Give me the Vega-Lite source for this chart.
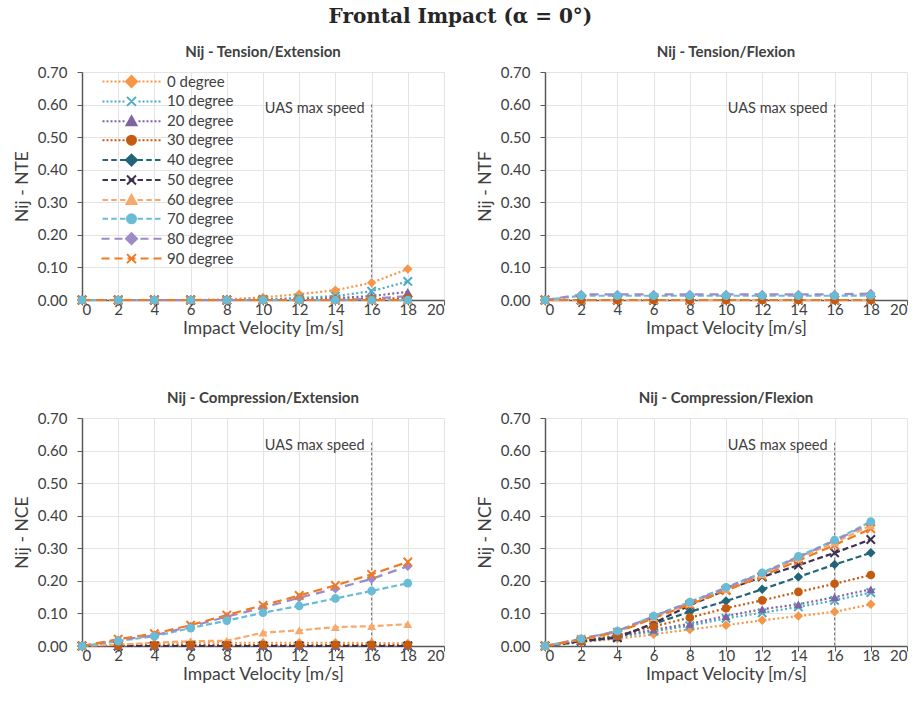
{
  "$schema": "https://vega.github.io/schema/vega-lite/v6.json",
  "padding": {"left": 13, "top": 7, "right": 5, "bottom": 5},
  "title": {"text": "Frontal Impact (α = 0°)", "font": "DejaVu Serif", "fontSize": 20, "fontWeight": "bold", "color": "#262626", "anchor": "middle", "offset": 18},
  "config": {
    "view": {"stroke": null},
    "font": "Lato",
    "title": {"font": "Lato", "fontSize": 15, "fontWeight": "bold", "color": "#404040", "offset": 5},
    "axis": {"labelFont": "Lato", "labelFontSize": 15, "labelColor": "#404040", "titleFont": "Lato", "titleFontSize": 17.5, "titleFontWeight": "normal", "titleColor": "#404040", "gridColor": "#e4e4e4", "domainColor": "#595959", "tickColor": "#595959", "domainWidth": 1.5, "tickSize": 5},
    "axisY": {"labelPadding": 10, "titlePadding": 6},
    "axisX": {"labelPadding": -3, "titlePadding": 2}
  },
  "resolve": {"legend": {"fill": "independent", "stroke": "independent", "shape": "independent"}},
  "datasets": {
    "nij": [
      {"p":"NTE","s":"0 degree","v":0,"y":0},{"p":"NTE","s":"0 degree","v":2,"y":0},{"p":"NTE","s":"0 degree","v":4,"y":0},{"p":"NTE","s":"0 degree","v":6,"y":0},{"p":"NTE","s":"0 degree","v":8,"y":0.002},{"p":"NTE","s":"0 degree","v":10,"y":0.008},{"p":"NTE","s":"0 degree","v":12,"y":0.018},{"p":"NTE","s":"0 degree","v":14,"y":0.03},{"p":"NTE","s":"0 degree","v":16,"y":0.053},{"p":"NTE","s":"0 degree","v":18,"y":0.095},
      {"p":"NTE","s":"10 degree","v":0,"y":0},{"p":"NTE","s":"10 degree","v":2,"y":0},{"p":"NTE","s":"10 degree","v":4,"y":0},{"p":"NTE","s":"10 degree","v":6,"y":0},{"p":"NTE","s":"10 degree","v":8,"y":0},{"p":"NTE","s":"10 degree","v":10,"y":0.002},{"p":"NTE","s":"10 degree","v":12,"y":0.006},{"p":"NTE","s":"10 degree","v":14,"y":0.012},{"p":"NTE","s":"10 degree","v":16,"y":0.027},{"p":"NTE","s":"10 degree","v":18,"y":0.057},
      {"p":"NTE","s":"20 degree","v":0,"y":0},{"p":"NTE","s":"20 degree","v":2,"y":0},{"p":"NTE","s":"20 degree","v":4,"y":0},{"p":"NTE","s":"20 degree","v":6,"y":0},{"p":"NTE","s":"20 degree","v":8,"y":0},{"p":"NTE","s":"20 degree","v":10,"y":0},{"p":"NTE","s":"20 degree","v":12,"y":0.002},{"p":"NTE","s":"20 degree","v":14,"y":0.006},{"p":"NTE","s":"20 degree","v":16,"y":0.012},{"p":"NTE","s":"20 degree","v":18,"y":0.025},
      {"p":"NTE","s":"30 degree","v":0,"y":0},{"p":"NTE","s":"30 degree","v":2,"y":0},{"p":"NTE","s":"30 degree","v":4,"y":0},{"p":"NTE","s":"30 degree","v":6,"y":0},{"p":"NTE","s":"30 degree","v":8,"y":0},{"p":"NTE","s":"30 degree","v":10,"y":0},{"p":"NTE","s":"30 degree","v":12,"y":0},{"p":"NTE","s":"30 degree","v":14,"y":0.001},{"p":"NTE","s":"30 degree","v":16,"y":0.003},{"p":"NTE","s":"30 degree","v":18,"y":0.006},
      {"p":"NTE","s":"40 degree","v":0,"y":0},{"p":"NTE","s":"40 degree","v":2,"y":0},{"p":"NTE","s":"40 degree","v":4,"y":0},{"p":"NTE","s":"40 degree","v":6,"y":0},{"p":"NTE","s":"40 degree","v":8,"y":0},{"p":"NTE","s":"40 degree","v":10,"y":0},{"p":"NTE","s":"40 degree","v":12,"y":0},{"p":"NTE","s":"40 degree","v":14,"y":0},{"p":"NTE","s":"40 degree","v":16,"y":0},{"p":"NTE","s":"40 degree","v":18,"y":0},
      {"p":"NTE","s":"50 degree","v":0,"y":0},{"p":"NTE","s":"50 degree","v":2,"y":0},{"p":"NTE","s":"50 degree","v":4,"y":0},{"p":"NTE","s":"50 degree","v":6,"y":0},{"p":"NTE","s":"50 degree","v":8,"y":0},{"p":"NTE","s":"50 degree","v":10,"y":0},{"p":"NTE","s":"50 degree","v":12,"y":0},{"p":"NTE","s":"50 degree","v":14,"y":0},{"p":"NTE","s":"50 degree","v":16,"y":0},{"p":"NTE","s":"50 degree","v":18,"y":0},
      {"p":"NTE","s":"60 degree","v":0,"y":0},{"p":"NTE","s":"60 degree","v":2,"y":0},{"p":"NTE","s":"60 degree","v":4,"y":0},{"p":"NTE","s":"60 degree","v":6,"y":0},{"p":"NTE","s":"60 degree","v":8,"y":0},{"p":"NTE","s":"60 degree","v":10,"y":0},{"p":"NTE","s":"60 degree","v":12,"y":0},{"p":"NTE","s":"60 degree","v":14,"y":0},{"p":"NTE","s":"60 degree","v":16,"y":0},{"p":"NTE","s":"60 degree","v":18,"y":0},
      {"p":"NTE","s":"70 degree","v":0,"y":0},{"p":"NTE","s":"70 degree","v":2,"y":0},{"p":"NTE","s":"70 degree","v":4,"y":0},{"p":"NTE","s":"70 degree","v":6,"y":0},{"p":"NTE","s":"70 degree","v":8,"y":0},{"p":"NTE","s":"70 degree","v":10,"y":0},{"p":"NTE","s":"70 degree","v":12,"y":0},{"p":"NTE","s":"70 degree","v":14,"y":0},{"p":"NTE","s":"70 degree","v":16,"y":0},{"p":"NTE","s":"70 degree","v":18,"y":0},
      {"p":"NTE","s":"80 degree","v":0,"y":0},{"p":"NTE","s":"80 degree","v":2,"y":0},{"p":"NTE","s":"80 degree","v":4,"y":0},{"p":"NTE","s":"80 degree","v":6,"y":0},{"p":"NTE","s":"80 degree","v":8,"y":0},{"p":"NTE","s":"80 degree","v":10,"y":0},{"p":"NTE","s":"80 degree","v":12,"y":0},{"p":"NTE","s":"80 degree","v":14,"y":0},{"p":"NTE","s":"80 degree","v":16,"y":0.004},{"p":"NTE","s":"80 degree","v":18,"y":0.012},
      {"p":"NTE","s":"90 degree","v":0,"y":0},{"p":"NTE","s":"90 degree","v":2,"y":0},{"p":"NTE","s":"90 degree","v":4,"y":0},{"p":"NTE","s":"90 degree","v":6,"y":0},{"p":"NTE","s":"90 degree","v":8,"y":0},{"p":"NTE","s":"90 degree","v":10,"y":0},{"p":"NTE","s":"90 degree","v":12,"y":0},{"p":"NTE","s":"90 degree","v":14,"y":0},{"p":"NTE","s":"90 degree","v":16,"y":0},{"p":"NTE","s":"90 degree","v":18,"y":0},

      {"p":"NTF","s":"0 degree","v":0,"y":0},{"p":"NTF","s":"0 degree","v":2,"y":0},{"p":"NTF","s":"0 degree","v":4,"y":0},{"p":"NTF","s":"0 degree","v":6,"y":0},{"p":"NTF","s":"0 degree","v":8,"y":0},{"p":"NTF","s":"0 degree","v":10,"y":0},{"p":"NTF","s":"0 degree","v":12,"y":0},{"p":"NTF","s":"0 degree","v":14,"y":0},{"p":"NTF","s":"0 degree","v":16,"y":0},{"p":"NTF","s":"0 degree","v":18,"y":0},
      {"p":"NTF","s":"10 degree","v":0,"y":0},{"p":"NTF","s":"10 degree","v":2,"y":0},{"p":"NTF","s":"10 degree","v":4,"y":0},{"p":"NTF","s":"10 degree","v":6,"y":0},{"p":"NTF","s":"10 degree","v":8,"y":0},{"p":"NTF","s":"10 degree","v":10,"y":0},{"p":"NTF","s":"10 degree","v":12,"y":0},{"p":"NTF","s":"10 degree","v":14,"y":0},{"p":"NTF","s":"10 degree","v":16,"y":0},{"p":"NTF","s":"10 degree","v":18,"y":0},
      {"p":"NTF","s":"20 degree","v":0,"y":0},{"p":"NTF","s":"20 degree","v":2,"y":0},{"p":"NTF","s":"20 degree","v":4,"y":0},{"p":"NTF","s":"20 degree","v":6,"y":0},{"p":"NTF","s":"20 degree","v":8,"y":0},{"p":"NTF","s":"20 degree","v":10,"y":0},{"p":"NTF","s":"20 degree","v":12,"y":0},{"p":"NTF","s":"20 degree","v":14,"y":0},{"p":"NTF","s":"20 degree","v":16,"y":0},{"p":"NTF","s":"20 degree","v":18,"y":0},
      {"p":"NTF","s":"30 degree","v":0,"y":0},{"p":"NTF","s":"30 degree","v":2,"y":0},{"p":"NTF","s":"30 degree","v":4,"y":0},{"p":"NTF","s":"30 degree","v":6,"y":0},{"p":"NTF","s":"30 degree","v":8,"y":0},{"p":"NTF","s":"30 degree","v":10,"y":0},{"p":"NTF","s":"30 degree","v":12,"y":0},{"p":"NTF","s":"30 degree","v":14,"y":0},{"p":"NTF","s":"30 degree","v":16,"y":0},{"p":"NTF","s":"30 degree","v":18,"y":0},
      {"p":"NTF","s":"40 degree","v":0,"y":0},{"p":"NTF","s":"40 degree","v":2,"y":0},{"p":"NTF","s":"40 degree","v":4,"y":0},{"p":"NTF","s":"40 degree","v":6,"y":0},{"p":"NTF","s":"40 degree","v":8,"y":0},{"p":"NTF","s":"40 degree","v":10,"y":0},{"p":"NTF","s":"40 degree","v":12,"y":0},{"p":"NTF","s":"40 degree","v":14,"y":0},{"p":"NTF","s":"40 degree","v":16,"y":0},{"p":"NTF","s":"40 degree","v":18,"y":0},
      {"p":"NTF","s":"50 degree","v":0,"y":0},{"p":"NTF","s":"50 degree","v":2,"y":0},{"p":"NTF","s":"50 degree","v":4,"y":0},{"p":"NTF","s":"50 degree","v":6,"y":0},{"p":"NTF","s":"50 degree","v":8,"y":0},{"p":"NTF","s":"50 degree","v":10,"y":0},{"p":"NTF","s":"50 degree","v":12,"y":0},{"p":"NTF","s":"50 degree","v":14,"y":0},{"p":"NTF","s":"50 degree","v":16,"y":0},{"p":"NTF","s":"50 degree","v":18,"y":0},
      {"p":"NTF","s":"60 degree","v":0,"y":0},{"p":"NTF","s":"60 degree","v":2,"y":0},{"p":"NTF","s":"60 degree","v":4,"y":0},{"p":"NTF","s":"60 degree","v":6,"y":0},{"p":"NTF","s":"60 degree","v":8,"y":0},{"p":"NTF","s":"60 degree","v":10,"y":0},{"p":"NTF","s":"60 degree","v":12,"y":0},{"p":"NTF","s":"60 degree","v":14,"y":0},{"p":"NTF","s":"60 degree","v":16,"y":0},{"p":"NTF","s":"60 degree","v":18,"y":0},
      {"p":"NTF","s":"70 degree","v":0,"y":0},{"p":"NTF","s":"70 degree","v":2,"y":0.013},{"p":"NTF","s":"70 degree","v":4,"y":0.013},{"p":"NTF","s":"70 degree","v":6,"y":0.013},{"p":"NTF","s":"70 degree","v":8,"y":0.013},{"p":"NTF","s":"70 degree","v":10,"y":0.013},{"p":"NTF","s":"70 degree","v":12,"y":0.013},{"p":"NTF","s":"70 degree","v":14,"y":0.013},{"p":"NTF","s":"70 degree","v":16,"y":0.013},{"p":"NTF","s":"70 degree","v":18,"y":0.014},
      {"p":"NTF","s":"80 degree","v":0,"y":0},{"p":"NTF","s":"80 degree","v":2,"y":0.017},{"p":"NTF","s":"80 degree","v":4,"y":0.017},{"p":"NTF","s":"80 degree","v":6,"y":0.017},{"p":"NTF","s":"80 degree","v":8,"y":0.017},{"p":"NTF","s":"80 degree","v":10,"y":0.017},{"p":"NTF","s":"80 degree","v":12,"y":0.017},{"p":"NTF","s":"80 degree","v":14,"y":0.017},{"p":"NTF","s":"80 degree","v":16,"y":0.017},{"p":"NTF","s":"80 degree","v":18,"y":0.02},
      {"p":"NTF","s":"90 degree","v":0,"y":0},{"p":"NTF","s":"90 degree","v":2,"y":0},{"p":"NTF","s":"90 degree","v":4,"y":0},{"p":"NTF","s":"90 degree","v":6,"y":0},{"p":"NTF","s":"90 degree","v":8,"y":0},{"p":"NTF","s":"90 degree","v":10,"y":0},{"p":"NTF","s":"90 degree","v":12,"y":0},{"p":"NTF","s":"90 degree","v":14,"y":0},{"p":"NTF","s":"90 degree","v":16,"y":0},{"p":"NTF","s":"90 degree","v":18,"y":0},

      {"p":"NCE","s":"0 degree","v":0,"y":0},{"p":"NCE","s":"0 degree","v":2,"y":0.004},{"p":"NCE","s":"0 degree","v":4,"y":0.008},{"p":"NCE","s":"0 degree","v":6,"y":0.01},{"p":"NCE","s":"0 degree","v":8,"y":0.01},{"p":"NCE","s":"0 degree","v":10,"y":0.01},{"p":"NCE","s":"0 degree","v":12,"y":0.01},{"p":"NCE","s":"0 degree","v":14,"y":0.01},{"p":"NCE","s":"0 degree","v":16,"y":0.009},{"p":"NCE","s":"0 degree","v":18,"y":0.008},
      {"p":"NCE","s":"10 degree","v":0,"y":0},{"p":"NCE","s":"10 degree","v":2,"y":0},{"p":"NCE","s":"10 degree","v":4,"y":0},{"p":"NCE","s":"10 degree","v":6,"y":0},{"p":"NCE","s":"10 degree","v":8,"y":0},{"p":"NCE","s":"10 degree","v":10,"y":0},{"p":"NCE","s":"10 degree","v":12,"y":0},{"p":"NCE","s":"10 degree","v":14,"y":0},{"p":"NCE","s":"10 degree","v":16,"y":0},{"p":"NCE","s":"10 degree","v":18,"y":0},
      {"p":"NCE","s":"20 degree","v":0,"y":0},{"p":"NCE","s":"20 degree","v":2,"y":0},{"p":"NCE","s":"20 degree","v":4,"y":0},{"p":"NCE","s":"20 degree","v":6,"y":0},{"p":"NCE","s":"20 degree","v":8,"y":0},{"p":"NCE","s":"20 degree","v":10,"y":0},{"p":"NCE","s":"20 degree","v":12,"y":0},{"p":"NCE","s":"20 degree","v":14,"y":0},{"p":"NCE","s":"20 degree","v":16,"y":0},{"p":"NCE","s":"20 degree","v":18,"y":0},
      {"p":"NCE","s":"30 degree","v":0,"y":0},{"p":"NCE","s":"30 degree","v":2,"y":0.001},{"p":"NCE","s":"30 degree","v":4,"y":0.002},{"p":"NCE","s":"30 degree","v":6,"y":0.003},{"p":"NCE","s":"30 degree","v":8,"y":0.003},{"p":"NCE","s":"30 degree","v":10,"y":0.003},{"p":"NCE","s":"30 degree","v":12,"y":0.003},{"p":"NCE","s":"30 degree","v":14,"y":0.003},{"p":"NCE","s":"30 degree","v":16,"y":0.003},{"p":"NCE","s":"30 degree","v":18,"y":0.003},
      {"p":"NCE","s":"40 degree","v":0,"y":0},{"p":"NCE","s":"40 degree","v":2,"y":0},{"p":"NCE","s":"40 degree","v":4,"y":0},{"p":"NCE","s":"40 degree","v":6,"y":0},{"p":"NCE","s":"40 degree","v":8,"y":0},{"p":"NCE","s":"40 degree","v":10,"y":0},{"p":"NCE","s":"40 degree","v":12,"y":0},{"p":"NCE","s":"40 degree","v":14,"y":0},{"p":"NCE","s":"40 degree","v":16,"y":0},{"p":"NCE","s":"40 degree","v":18,"y":0},
      {"p":"NCE","s":"50 degree","v":0,"y":0},{"p":"NCE","s":"50 degree","v":2,"y":0},{"p":"NCE","s":"50 degree","v":4,"y":0},{"p":"NCE","s":"50 degree","v":6,"y":0},{"p":"NCE","s":"50 degree","v":8,"y":0},{"p":"NCE","s":"50 degree","v":10,"y":0},{"p":"NCE","s":"50 degree","v":12,"y":0},{"p":"NCE","s":"50 degree","v":14,"y":0},{"p":"NCE","s":"50 degree","v":16,"y":0},{"p":"NCE","s":"50 degree","v":18,"y":0},
      {"p":"NCE","s":"60 degree","v":0,"y":0},{"p":"NCE","s":"60 degree","v":2,"y":0.004},{"p":"NCE","s":"60 degree","v":4,"y":0.01},{"p":"NCE","s":"60 degree","v":6,"y":0.015},{"p":"NCE","s":"60 degree","v":8,"y":0.016},{"p":"NCE","s":"60 degree","v":10,"y":0.041},{"p":"NCE","s":"60 degree","v":12,"y":0.048},{"p":"NCE","s":"60 degree","v":14,"y":0.058},{"p":"NCE","s":"60 degree","v":16,"y":0.061},{"p":"NCE","s":"60 degree","v":18,"y":0.067},
      {"p":"NCE","s":"70 degree","v":0,"y":0},{"p":"NCE","s":"70 degree","v":2,"y":0.015},{"p":"NCE","s":"70 degree","v":4,"y":0.03},{"p":"NCE","s":"70 degree","v":6,"y":0.055},{"p":"NCE","s":"70 degree","v":8,"y":0.078},{"p":"NCE","s":"70 degree","v":10,"y":0.102},{"p":"NCE","s":"70 degree","v":12,"y":0.123},{"p":"NCE","s":"70 degree","v":14,"y":0.146},{"p":"NCE","s":"70 degree","v":16,"y":0.169},{"p":"NCE","s":"70 degree","v":18,"y":0.193},
      {"p":"NCE","s":"80 degree","v":0,"y":0},{"p":"NCE","s":"80 degree","v":2,"y":0.018},{"p":"NCE","s":"80 degree","v":4,"y":0.033},{"p":"NCE","s":"80 degree","v":6,"y":0.06},{"p":"NCE","s":"80 degree","v":8,"y":0.09},{"p":"NCE","s":"80 degree","v":10,"y":0.118},{"p":"NCE","s":"80 degree","v":12,"y":0.148},{"p":"NCE","s":"80 degree","v":14,"y":0.176},{"p":"NCE","s":"80 degree","v":16,"y":0.206},{"p":"NCE","s":"80 degree","v":18,"y":0.245},
      {"p":"NCE","s":"90 degree","v":0,"y":0},{"p":"NCE","s":"90 degree","v":2,"y":0.021},{"p":"NCE","s":"90 degree","v":4,"y":0.038},{"p":"NCE","s":"90 degree","v":6,"y":0.064},{"p":"NCE","s":"90 degree","v":8,"y":0.095},{"p":"NCE","s":"90 degree","v":10,"y":0.125},{"p":"NCE","s":"90 degree","v":12,"y":0.155},{"p":"NCE","s":"90 degree","v":14,"y":0.186},{"p":"NCE","s":"90 degree","v":16,"y":0.22},{"p":"NCE","s":"90 degree","v":18,"y":0.258},

      {"p":"NCF","s":"0 degree","v":0,"y":0},{"p":"NCF","s":"0 degree","v":2,"y":0.012},{"p":"NCF","s":"0 degree","v":4,"y":0.022},{"p":"NCF","s":"0 degree","v":6,"y":0.036},{"p":"NCF","s":"0 degree","v":8,"y":0.051},{"p":"NCF","s":"0 degree","v":10,"y":0.064},{"p":"NCF","s":"0 degree","v":12,"y":0.079},{"p":"NCF","s":"0 degree","v":14,"y":0.092},{"p":"NCF","s":"0 degree","v":16,"y":0.105},{"p":"NCF","s":"0 degree","v":18,"y":0.128},
      {"p":"NCF","s":"10 degree","v":0,"y":0},{"p":"NCF","s":"10 degree","v":2,"y":0.014},{"p":"NCF","s":"10 degree","v":4,"y":0.027},{"p":"NCF","s":"10 degree","v":6,"y":0.045},{"p":"NCF","s":"10 degree","v":8,"y":0.062},{"p":"NCF","s":"10 degree","v":10,"y":0.085},{"p":"NCF","s":"10 degree","v":12,"y":0.102},{"p":"NCF","s":"10 degree","v":14,"y":0.12},{"p":"NCF","s":"10 degree","v":16,"y":0.14},{"p":"NCF","s":"10 degree","v":18,"y":0.164},
      {"p":"NCF","s":"20 degree","v":0,"y":0},{"p":"NCF","s":"20 degree","v":2,"y":0.015},{"p":"NCF","s":"20 degree","v":4,"y":0.03},{"p":"NCF","s":"20 degree","v":6,"y":0.05},{"p":"NCF","s":"20 degree","v":8,"y":0.068},{"p":"NCF","s":"20 degree","v":10,"y":0.092},{"p":"NCF","s":"20 degree","v":12,"y":0.113},{"p":"NCF","s":"20 degree","v":14,"y":0.128},{"p":"NCF","s":"20 degree","v":16,"y":0.15},{"p":"NCF","s":"20 degree","v":18,"y":0.174},
      {"p":"NCF","s":"30 degree","v":0,"y":0},{"p":"NCF","s":"30 degree","v":2,"y":0.015},{"p":"NCF","s":"30 degree","v":4,"y":0.033},{"p":"NCF","s":"30 degree","v":6,"y":0.06},{"p":"NCF","s":"30 degree","v":8,"y":0.087},{"p":"NCF","s":"30 degree","v":10,"y":0.116},{"p":"NCF","s":"30 degree","v":12,"y":0.14},{"p":"NCF","s":"30 degree","v":14,"y":0.166},{"p":"NCF","s":"30 degree","v":16,"y":0.191},{"p":"NCF","s":"30 degree","v":18,"y":0.218},
      {"p":"NCF","s":"40 degree","v":0,"y":0},{"p":"NCF","s":"40 degree","v":2,"y":0.015},{"p":"NCF","s":"40 degree","v":4,"y":0.028},{"p":"NCF","s":"40 degree","v":6,"y":0.068},{"p":"NCF","s":"40 degree","v":8,"y":0.105},{"p":"NCF","s":"40 degree","v":10,"y":0.138},{"p":"NCF","s":"40 degree","v":12,"y":0.174},{"p":"NCF","s":"40 degree","v":14,"y":0.212},{"p":"NCF","s":"40 degree","v":16,"y":0.25},{"p":"NCF","s":"40 degree","v":18,"y":0.286},
      {"p":"NCF","s":"50 degree","v":0,"y":0},{"p":"NCF","s":"50 degree","v":2,"y":0.015},{"p":"NCF","s":"50 degree","v":4,"y":0.025},{"p":"NCF","s":"50 degree","v":6,"y":0.07},{"p":"NCF","s":"50 degree","v":8,"y":0.125},{"p":"NCF","s":"50 degree","v":10,"y":0.172},{"p":"NCF","s":"50 degree","v":12,"y":0.212},{"p":"NCF","s":"50 degree","v":14,"y":0.248},{"p":"NCF","s":"50 degree","v":16,"y":0.286},{"p":"NCF","s":"50 degree","v":18,"y":0.327},
      {"p":"NCF","s":"60 degree","v":0,"y":0},{"p":"NCF","s":"60 degree","v":2,"y":0.02},{"p":"NCF","s":"60 degree","v":4,"y":0.043},{"p":"NCF","s":"60 degree","v":6,"y":0.088},{"p":"NCF","s":"60 degree","v":8,"y":0.13},{"p":"NCF","s":"60 degree","v":10,"y":0.175},{"p":"NCF","s":"60 degree","v":12,"y":0.22},{"p":"NCF","s":"60 degree","v":14,"y":0.27},{"p":"NCF","s":"60 degree","v":16,"y":0.318},{"p":"NCF","s":"60 degree","v":18,"y":0.37},
      {"p":"NCF","s":"70 degree","v":0,"y":0},{"p":"NCF","s":"70 degree","v":2,"y":0.022},{"p":"NCF","s":"70 degree","v":4,"y":0.046},{"p":"NCF","s":"70 degree","v":6,"y":0.092},{"p":"NCF","s":"70 degree","v":8,"y":0.135},{"p":"NCF","s":"70 degree","v":10,"y":0.18},{"p":"NCF","s":"70 degree","v":12,"y":0.225},{"p":"NCF","s":"70 degree","v":14,"y":0.275},{"p":"NCF","s":"70 degree","v":16,"y":0.325},{"p":"NCF","s":"70 degree","v":18,"y":0.382},
      {"p":"NCF","s":"80 degree","v":0,"y":0},{"p":"NCF","s":"80 degree","v":2,"y":0.022},{"p":"NCF","s":"80 degree","v":4,"y":0.046},{"p":"NCF","s":"80 degree","v":6,"y":0.091},{"p":"NCF","s":"80 degree","v":8,"y":0.134},{"p":"NCF","s":"80 degree","v":10,"y":0.178},{"p":"NCF","s":"80 degree","v":12,"y":0.223},{"p":"NCF","s":"80 degree","v":14,"y":0.273},{"p":"NCF","s":"80 degree","v":16,"y":0.323},{"p":"NCF","s":"80 degree","v":18,"y":0.378},
      {"p":"NCF","s":"90 degree","v":0,"y":0},{"p":"NCF","s":"90 degree","v":2,"y":0.02},{"p":"NCF","s":"90 degree","v":4,"y":0.042},{"p":"NCF","s":"90 degree","v":6,"y":0.085},{"p":"NCF","s":"90 degree","v":8,"y":0.128},{"p":"NCF","s":"90 degree","v":10,"y":0.17},{"p":"NCF","s":"90 degree","v":12,"y":0.215},{"p":"NCF","s":"90 degree","v":14,"y":0.262},{"p":"NCF","s":"90 degree","v":16,"y":0.31},{"p":"NCF","s":"90 degree","v":18,"y":0.36}
    ]
  },
  "columns": 2,
  "spacing": {"row": 54, "column": 31},
  "concat": [
    {
      "width": 362, "height": 228,
      "title": "Nij - Tension/Extension",
      "encoding": {
        "x": {"field": "v", "type": "quantitative", "scale": {"domain": [0, 20], "nice": false}, "axis": {"values": [0,2,4,6,8,10,12,14,16,18,20], "title": "Impact Velocity [m/s]"}},
        "y": {"field": "y", "type": "quantitative", "scale": {"domain": [0, 0.7], "nice": false}, "axis": {"values": [0,0.1,0.2,0.3,0.4,0.5,0.6,0.7], "format": ".2f", "title": "Nij - NTE"}}
      },
      "layer": [
        {"data": {"values": [{"v": 16, "y": 0.6, "label": "UAS max speed"}]}, "mark": {"type": "rule", "color": "#7f7f7f", "strokeDash": [3, 2], "strokeWidth": 1.2}, "encoding": {"y2": {"datum": 0}}},
        {"data": {"values": [{"v": 16, "y": 0.6, "label": "UAS max speed"}]}, "mark": {"type": "text", "align": "right", "baseline": "middle", "dx": -7, "dy": 4, "fontSize": 14.5, "font": "Lato", "color": "#404040"}, "encoding": {"text": {"field": "label"}}},
        {"data": {"name": "nij"}, "transform": [{"filter": "datum.p == 'NTE'"}], "mark": {"type": "line", "strokeWidth": 2.2},
          "encoding": {
            "color": {"field": "s", "type": "nominal", "legend": null, "scale": {"domain": ["0 degree","10 degree","20 degree","30 degree","40 degree","50 degree","60 degree","70 degree","80 degree","90 degree"], "range": ["#F79646","#4BACC6","#8064A2","#C55A11","#226578","#3F3151","#F9A86B","#68BCD6","#9E8BC6","#F07A22"]}},
            "strokeDash": {"field": "s", "type": "nominal", "legend": null, "scale": {"domain": ["0 degree","10 degree","20 degree","30 degree","40 degree","50 degree","60 degree","70 degree","80 degree","90 degree"], "range": [[2,2.5],[2,2.5],[2,2.5],[2,2.5],[6,3],[6,3],[6,3],[6,3],[9,6],[9,5]]}}
          }},
        {"data": {"name": "nij"}, "transform": [{"filter": "datum.p == 'NTE' && indexof(['0 degree','40 degree','80 degree'], datum.s) >= 0"}], "mark": {"type": "point", "shape": "diamond", "filled": true, "size": 90, "opacity": 1}, "encoding": {"color": {"field": "s", "type": "nominal", "legend": null}}},
        {"data": {"name": "nij"}, "transform": [{"filter": "datum.p == 'NTE' && indexof(['10 degree','50 degree','90 degree'], datum.s) >= 0"}], "mark": {"type": "point", "shape": "M-1,-1L1,1M-1,1L1,-1", "filled": false, "size": 70, "strokeWidth": 2, "opacity": 1}, "encoding": {"color": {"field": "s", "type": "nominal", "legend": null}}},
        {"data": {"name": "nij"}, "transform": [{"filter": "datum.p == 'NTE' && indexof(['20 degree','60 degree'], datum.s) >= 0"}], "mark": {"type": "point", "shape": "triangle-up", "filled": true, "size": 80, "opacity": 1}, "encoding": {"color": {"field": "s", "type": "nominal", "legend": null}}},
        {"data": {"name": "nij"}, "transform": [{"filter": "datum.p == 'NTE' && indexof(['30 degree','70 degree'], datum.s) >= 0"}], "mark": {"type": "point", "shape": "circle", "filled": true, "size": 75, "opacity": 1}, "encoding": {"color": {"field": "s", "type": "nominal", "legend": null}}},
        {"data": {"name": "nij"}, "transform": [{"filter": "datum.p == 'NTE' && datum.v == 0"}], "mark": {"type": "point", "filled": true, "opacity": 0, "strokeWidth": 2},
          "encoding": {
            "shape": {"field": "s", "type": "nominal",
              "scale": {"domain": ["0 degree","10 degree","20 degree","30 degree","40 degree","50 degree","60 degree","70 degree","80 degree","90 degree"],
                "range": [
                  "M-5.8,0h0.4M-5,0h0.4M-4.2,0h0.4M-3.4,0h0.4M-2.6,0h0.4M-1.8,0h0.4M1.4,0h0.4M2.2,0h0.4M3,0h0.4M3.8,0h0.4M4.6,0h0.4M5.4,0h0.4M0,-1.1L1.1,0L0,1.1L-1.1,0Z",
                  "M-5.8,0h0.4M-5,0h0.4M-4.2,0h0.4M-3.4,0h0.4M-2.6,0h0.4M-1.8,0h0.4M1.4,0h0.4M2.2,0h0.4M3,0h0.4M3.8,0h0.4M4.6,0h0.4M5.4,0h0.4M-0.9,-0.9L0.9,0.9M-0.9,0.9L0.9,-0.9",
                  "M-5.8,0h0.4M-5,0h0.4M-4.2,0h0.4M-3.4,0h0.4M-2.6,0h0.4M-1.8,0h0.4M1.4,0h0.4M2.2,0h0.4M3,0h0.4M3.8,0h0.4M4.6,0h0.4M5.4,0h0.4M0,-1L1,0.8L-1,0.8Z",
                  "M-5.8,0h0.4M-5,0h0.4M-4.2,0h0.4M-3.4,0h0.4M-2.6,0h0.4M-1.8,0h0.4M1.4,0h0.4M2.2,0h0.4M3,0h0.4M3.8,0h0.4M4.6,0h0.4M5.4,0h0.4M-0.9,0A0.9,0.9,0,1,0,0.9,0A0.9,0.9,0,1,0,-0.9,0Z",
                  "M-5.8,0h1.1M-4.05,0h1.1M-2.3,0h1.1M-0.55,0h1.1M1.2,0h1.1M2.95,0h1.1M4.7,0h1.1M0,-1.1L1.1,0L0,1.1L-1.1,0Z",
                  "M-5.8,0h1.1M-4.05,0h1.1M-2.3,0h1.1M-0.55,0h1.1M1.2,0h1.1M2.95,0h1.1M4.7,0h1.1M-0.9,-0.9L0.9,0.9M-0.9,0.9L0.9,-0.9",
                  "M-5.8,0h1.1M-4.05,0h1.1M-2.3,0h1.1M-0.55,0h1.1M1.2,0h1.1M2.95,0h1.1M4.7,0h1.1M0,-1L1,0.8L-1,0.8Z",
                  "M-5.8,0h1.1M-4.05,0h1.1M-2.3,0h1.1M-0.55,0h1.1M1.2,0h1.1M2.95,0h1.1M4.7,0h1.1M-0.9,0A0.9,0.9,0,1,0,0.9,0A0.9,0.9,0,1,0,-0.9,0Z",
                  "M-6,0h1.6M-3.4,0h1.6M-0.8,0h1.6M1.8,0h1.6M4.4,0h1.6M0,-1.1L1.1,0L0,1.1L-1.1,0Z",
                  "M-6,0h1.6M-3.4,0h1.6M-0.8,0h1.6M1.8,0h1.6M4.4,0h1.6M-0.9,-0.9L0.9,0.9M-0.9,0.9L0.9,-0.9"
                ]},
              "legend": {"title": null, "orient": "none", "legendX": 17, "legendY": 2, "symbolSize": 100, "symbolStrokeWidth": 2, "symbolOpacity": 1, "symbolOffset": 25, "labelOffset": 28, "labelFont": "Lato", "labelFontSize": 15, "labelColor": "#404040", "rowPadding": 1.9, "padding": 0}},
            "fill": {"field": "s", "type": "nominal",
              "scale": {"domain": ["0 degree","10 degree","20 degree","30 degree","40 degree","50 degree","60 degree","70 degree","80 degree","90 degree"], "range": ["#F79646","#4BACC6","#8064A2","#C55A11","#226578","#3F3151","#F9A86B","#68BCD6","#9E8BC6","#F07A22"]},
              "legend": {"title": null, "orient": "none", "legendX": 17, "legendY": 2, "symbolSize": 100, "symbolStrokeWidth": 2, "symbolOpacity": 1, "symbolOffset": 25, "labelOffset": 28, "labelFont": "Lato", "labelFontSize": 15, "labelColor": "#404040", "rowPadding": 1.9, "padding": 0}},
            "stroke": {"field": "s", "type": "nominal",
              "scale": {"domain": ["0 degree","10 degree","20 degree","30 degree","40 degree","50 degree","60 degree","70 degree","80 degree","90 degree"], "range": ["#F79646","#4BACC6","#8064A2","#C55A11","#226578","#3F3151","#F9A86B","#68BCD6","#9E8BC6","#F07A22"]},
              "legend": {"title": null, "orient": "none", "legendX": 17, "legendY": 2, "symbolSize": 100, "symbolStrokeWidth": 2, "symbolOpacity": 1, "symbolOffset": 25, "labelOffset": 28, "labelFont": "Lato", "labelFontSize": 15, "labelColor": "#404040", "rowPadding": 1.9, "padding": 0}}
          }}
      ]
    },
    {
      "width": 362, "height": 228,
      "title": "Nij - Tension/Flexion",
      "encoding": {
        "x": {"field": "v", "type": "quantitative", "scale": {"domain": [0, 20], "nice": false}, "axis": {"values": [0,2,4,6,8,10,12,14,16,18,20], "title": "Impact Velocity [m/s]"}},
        "y": {"field": "y", "type": "quantitative", "scale": {"domain": [0, 0.7], "nice": false}, "axis": {"values": [0,0.1,0.2,0.3,0.4,0.5,0.6,0.7], "format": ".2f", "title": "Nij - NTF"}}
      },
      "layer": [
        {"data": {"values": [{"v": 16, "y": 0.6, "label": "UAS max speed"}]}, "mark": {"type": "rule", "color": "#7f7f7f", "strokeDash": [3, 2], "strokeWidth": 1.2}, "encoding": {"y2": {"datum": 0}}},
        {"data": {"values": [{"v": 16, "y": 0.6, "label": "UAS max speed"}]}, "mark": {"type": "text", "align": "right", "baseline": "middle", "dx": -7, "dy": 4, "fontSize": 14.5, "font": "Lato", "color": "#404040"}, "encoding": {"text": {"field": "label"}}},
        {"data": {"name": "nij"}, "transform": [{"filter": "datum.p == 'NTF'"}], "mark": {"type": "line", "strokeWidth": 2.2},
          "encoding": {
            "color": {"field": "s", "type": "nominal", "legend": null, "scale": {"domain": ["0 degree","10 degree","20 degree","30 degree","40 degree","50 degree","60 degree","70 degree","80 degree","90 degree"], "range": ["#F79646","#4BACC6","#8064A2","#C55A11","#226578","#3F3151","#F9A86B","#68BCD6","#9E8BC6","#F07A22"]}},
            "strokeDash": {"field": "s", "type": "nominal", "legend": null, "scale": {"domain": ["0 degree","10 degree","20 degree","30 degree","40 degree","50 degree","60 degree","70 degree","80 degree","90 degree"], "range": [[2,2.5],[2,2.5],[2,2.5],[2,2.5],[6,3],[6,3],[6,3],[6,3],[9,6],[9,5]]}}
          }},
        {"data": {"name": "nij"}, "transform": [{"filter": "datum.p == 'NTF' && indexof(['0 degree','40 degree','80 degree'], datum.s) >= 0"}], "mark": {"type": "point", "shape": "diamond", "filled": true, "size": 90, "opacity": 1}, "encoding": {"color": {"field": "s", "type": "nominal", "legend": null}}},
        {"data": {"name": "nij"}, "transform": [{"filter": "datum.p == 'NTF' && indexof(['10 degree','50 degree','90 degree'], datum.s) >= 0"}], "mark": {"type": "point", "shape": "M-1,-1L1,1M-1,1L1,-1", "filled": false, "size": 70, "strokeWidth": 2, "opacity": 1}, "encoding": {"color": {"field": "s", "type": "nominal", "legend": null}}},
        {"data": {"name": "nij"}, "transform": [{"filter": "datum.p == 'NTF' && indexof(['20 degree','60 degree'], datum.s) >= 0"}], "mark": {"type": "point", "shape": "triangle-up", "filled": true, "size": 80, "opacity": 1}, "encoding": {"color": {"field": "s", "type": "nominal", "legend": null}}},
        {"data": {"name": "nij"}, "transform": [{"filter": "datum.p == 'NTF' && indexof(['30 degree','70 degree'], datum.s) >= 0"}], "mark": {"type": "point", "shape": "circle", "filled": true, "size": 75, "opacity": 1}, "encoding": {"color": {"field": "s", "type": "nominal", "legend": null}}}
      ]
    },
    {
      "width": 362, "height": 228,
      "title": "Nij - Compression/Extension",
      "encoding": {
        "x": {"field": "v", "type": "quantitative", "scale": {"domain": [0, 20], "nice": false}, "axis": {"values": [0,2,4,6,8,10,12,14,16,18,20], "title": "Impact Velocity [m/s]"}},
        "y": {"field": "y", "type": "quantitative", "scale": {"domain": [0, 0.7], "nice": false}, "axis": {"values": [0,0.1,0.2,0.3,0.4,0.5,0.6,0.7], "format": ".2f", "title": "Nij - NCE"}}
      },
      "layer": [
        {"data": {"values": [{"v": 16, "y": 0.625, "label": "UAS max speed"}]}, "mark": {"type": "rule", "color": "#7f7f7f", "strokeDash": [3, 2], "strokeWidth": 1.2}, "encoding": {"y2": {"datum": 0}}},
        {"data": {"values": [{"v": 16, "y": 0.625, "label": "UAS max speed"}]}, "mark": {"type": "text", "align": "right", "baseline": "middle", "dx": -7, "dy": 4, "fontSize": 14.5, "font": "Lato", "color": "#404040"}, "encoding": {"text": {"field": "label"}}},
        {"data": {"name": "nij"}, "transform": [{"filter": "datum.p == 'NCE'"}], "mark": {"type": "line", "strokeWidth": 2.2},
          "encoding": {
            "color": {"field": "s", "type": "nominal", "legend": null, "scale": {"domain": ["0 degree","10 degree","20 degree","30 degree","40 degree","50 degree","60 degree","70 degree","80 degree","90 degree"], "range": ["#F79646","#4BACC6","#8064A2","#C55A11","#226578","#3F3151","#F9A86B","#68BCD6","#9E8BC6","#F07A22"]}},
            "strokeDash": {"field": "s", "type": "nominal", "legend": null, "scale": {"domain": ["0 degree","10 degree","20 degree","30 degree","40 degree","50 degree","60 degree","70 degree","80 degree","90 degree"], "range": [[2,2.5],[2,2.5],[2,2.5],[2,2.5],[6,3],[6,3],[6,3],[6,3],[9,6],[9,5]]}}
          }},
        {"data": {"name": "nij"}, "transform": [{"filter": "datum.p == 'NCE' && indexof(['0 degree','40 degree','80 degree'], datum.s) >= 0"}], "mark": {"type": "point", "shape": "diamond", "filled": true, "size": 90, "opacity": 1}, "encoding": {"color": {"field": "s", "type": "nominal", "legend": null}}},
        {"data": {"name": "nij"}, "transform": [{"filter": "datum.p == 'NCE' && indexof(['10 degree','50 degree','90 degree'], datum.s) >= 0"}], "mark": {"type": "point", "shape": "M-1,-1L1,1M-1,1L1,-1", "filled": false, "size": 70, "strokeWidth": 2, "opacity": 1}, "encoding": {"color": {"field": "s", "type": "nominal", "legend": null}}},
        {"data": {"name": "nij"}, "transform": [{"filter": "datum.p == 'NCE' && indexof(['20 degree','60 degree'], datum.s) >= 0"}], "mark": {"type": "point", "shape": "triangle-up", "filled": true, "size": 80, "opacity": 1}, "encoding": {"color": {"field": "s", "type": "nominal", "legend": null}}},
        {"data": {"name": "nij"}, "transform": [{"filter": "datum.p == 'NCE' && indexof(['30 degree','70 degree'], datum.s) >= 0"}], "mark": {"type": "point", "shape": "circle", "filled": true, "size": 75, "opacity": 1}, "encoding": {"color": {"field": "s", "type": "nominal", "legend": null}}}
      ]
    },
    {
      "width": 362, "height": 228,
      "title": "Nij - Compression/Flexion",
      "encoding": {
        "x": {"field": "v", "type": "quantitative", "scale": {"domain": [0, 20], "nice": false}, "axis": {"values": [0,2,4,6,8,10,12,14,16,18,20], "title": "Impact Velocity [m/s]"}},
        "y": {"field": "y", "type": "quantitative", "scale": {"domain": [0, 0.7], "nice": false}, "axis": {"values": [0,0.1,0.2,0.3,0.4,0.5,0.6,0.7], "format": ".2f", "title": "Nij - NCF"}}
      },
      "layer": [
        {"data": {"values": [{"v": 16, "y": 0.625, "label": "UAS max speed"}]}, "mark": {"type": "rule", "color": "#7f7f7f", "strokeDash": [3, 2], "strokeWidth": 1.2}, "encoding": {"y2": {"datum": 0}}},
        {"data": {"values": [{"v": 16, "y": 0.625, "label": "UAS max speed"}]}, "mark": {"type": "text", "align": "right", "baseline": "middle", "dx": -7, "dy": 4, "fontSize": 14.5, "font": "Lato", "color": "#404040"}, "encoding": {"text": {"field": "label"}}},
        {"data": {"name": "nij"}, "transform": [{"filter": "datum.p == 'NCF'"}], "mark": {"type": "line", "strokeWidth": 2.2},
          "encoding": {
            "color": {"field": "s", "type": "nominal", "legend": null, "scale": {"domain": ["0 degree","10 degree","20 degree","30 degree","40 degree","50 degree","60 degree","70 degree","80 degree","90 degree"], "range": ["#F79646","#4BACC6","#8064A2","#C55A11","#226578","#3F3151","#F9A86B","#68BCD6","#9E8BC6","#F07A22"]}},
            "strokeDash": {"field": "s", "type": "nominal", "legend": null, "scale": {"domain": ["0 degree","10 degree","20 degree","30 degree","40 degree","50 degree","60 degree","70 degree","80 degree","90 degree"], "range": [[2,2.5],[2,2.5],[2,2.5],[2,2.5],[6,3],[6,3],[6,3],[6,3],[9,6],[9,5]]}}
          }},
        {"data": {"name": "nij"}, "transform": [{"filter": "datum.p == 'NCF' && indexof(['0 degree','40 degree','80 degree'], datum.s) >= 0"}], "mark": {"type": "point", "shape": "diamond", "filled": true, "size": 90, "opacity": 1}, "encoding": {"color": {"field": "s", "type": "nominal", "legend": null}}},
        {"data": {"name": "nij"}, "transform": [{"filter": "datum.p == 'NCF' && indexof(['10 degree','50 degree','90 degree'], datum.s) >= 0"}], "mark": {"type": "point", "shape": "M-1,-1L1,1M-1,1L1,-1", "filled": false, "size": 70, "strokeWidth": 2, "opacity": 1}, "encoding": {"color": {"field": "s", "type": "nominal", "legend": null}}},
        {"data": {"name": "nij"}, "transform": [{"filter": "datum.p == 'NCF' && indexof(['20 degree','60 degree'], datum.s) >= 0"}], "mark": {"type": "point", "shape": "triangle-up", "filled": true, "size": 80, "opacity": 1}, "encoding": {"color": {"field": "s", "type": "nominal", "legend": null}}},
        {"data": {"name": "nij"}, "transform": [{"filter": "datum.p == 'NCF' && indexof(['30 degree','70 degree'], datum.s) >= 0"}], "mark": {"type": "point", "shape": "circle", "filled": true, "size": 75, "opacity": 1}, "encoding": {"color": {"field": "s", "type": "nominal", "legend": null}}}
      ]
    }
  ]
}
